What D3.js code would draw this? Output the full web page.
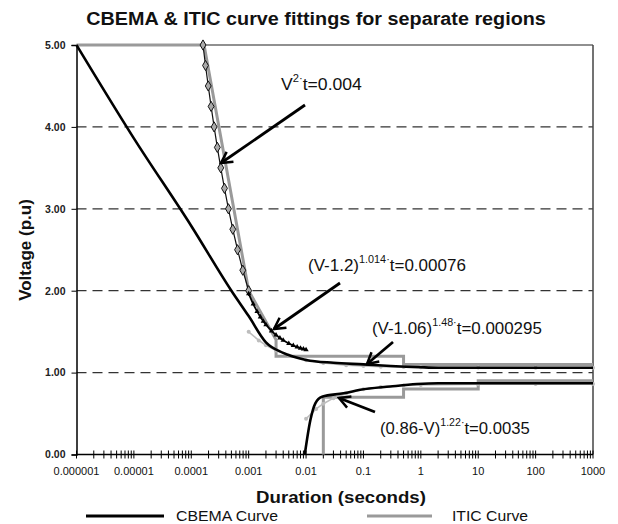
<!DOCTYPE html>
<html><head><meta charset="utf-8">
<script src="https://cdn.jsdelivr.net/npm/d3@7"></script>
<style>body{margin:0;background:#fff}svg{display:block;font-family:Arial,"Liberation Sans",sans-serif}</style>
</head><body><svg id="c" width="618" height="524"></svg>
<script>
// ---- data ----
const xTickLabels = ["0.000001","0.00001","0.0001","0.001","0.01","0.1","1","10","100","1000"];
const xTickValues = [1e-6,1e-5,1e-4,1e-3,1e-2,1e-1,1,10,100,1000];
const yTickValues = [0,1,2,3,4,5];

const cbemaUpperT = [1e-6,1e-5,1e-4,0.0005,0.001,0.002,0.004,0.01,0.03,0.1,0.3,1,2,1000];
const cbemaUpperV = [5.0,3.86,2.79,2.0,1.69,1.37,1.24,1.155,1.12,1.10,1.08,1.065,1.06,1.06];
const cbemaLowerT = [0.0095,0.0119,0.0145,0.019,0.045,0.088,0.293,0.85,2,1000];
const cbemaLowerV = [0.0,0.42,0.625,0.706,0.747,0.79,0.83,0.86,0.87,0.87];

const iticUpperT = [1e-6,0.000167,0.001,0.003,0.003,0.5,0.5,1000];
const iticUpperV = [5.0,5.0,2.0,1.4,1.2,1.2,1.1,1.1];
const iticLowerT = [0.02,0.02,0.5,0.5,10,10,1000];
const iticLowerV = [0.0,0.7,0.7,0.8,0.8,0.9,0.9];

// V^2·t = 0.004 (diamonds)
const fit1T = [0.00016,0.000177,0.0001975,0.0002215,0.00025,0.0002844,0.0003265,0.0003787,0.0004444,0.000529,0.00064,0.00079,0.001];
const fit1V = [5.0,4.75,4.5,4.25,4.0,3.75,3.5,3.25,3.0,2.75,2.5,2.25,2.0];
// (V-1.2)^1.014·t = 0.00076 (triangles)
const fit2T = [0.001,0.0012,0.0014,0.0016,0.0018,0.002,0.0025,0.003,0.0035,0.004,0.005,0.006,0.007,0.008,0.009,0.01];
const fit2V = [1.963,1.837,1.747,1.680,1.627,1.585,1.509,1.458,1.422,1.394,1.356,1.330,1.312,1.298,1.287,1.279];
// (V-1.06)^1.48·t = 0.000295
const fit3T = [0.001,0.0015,0.002,0.003,0.005,0.01,0.02,0.05,0.1,0.2,0.5,1,10,100,1000];
const fit3V = [1.498,1.393,1.334,1.269,1.208,1.152,1.118,1.091,1.080,1.072,1.067,1.064,1.061,1.060,1.060];
// (0.86-V)^1.22·t = 0.0035
const fit4T = [0.01,0.015,0.02,0.03,0.05,0.1,0.2,0.5,1,10,100,1000];
const fit4V = [0.437,0.557,0.620,0.688,0.747,0.796,0.824,0.843,0.850,0.8585,0.8597,0.860];

// ---- chart ----
const svg = d3.select("#c");
const L = 76.5, R = 593, T = 45, B = 454.5;
const x = d3.scaleLog().domain([1e-6,1000]).range([L,R]);
const y = d3.scaleLinear().domain([0,5]).range([B,T]);
const zip = (a,b)=>a.map((t,i)=>[t,b[i]]);
const line = d3.line().x(d=>x(d[0])).y(d=>y(d[1]));

svg.append("defs").append("marker").attr("id","arr").attr("viewBox","-14 -8 16 16")
  .attr("markerWidth",16).attr("markerHeight",16).attr("refX",0).attr("refY",0)
  .attr("orient","auto").attr("markerUnits","userSpaceOnUse")
  .append("path").attr("d","M-11,-6 L0,0 L-11,6").attr("fill","none").attr("stroke","#000").attr("stroke-width",2.5);

// gridlines
svg.append("g").selectAll("line").data([1,2,3,4]).join("line")
  .attr("x1",L).attr("x2",R).attr("y1",d=>y(d)).attr("y2",d=>y(d))
  .attr("stroke","#333").attr("stroke-width",1.2).attr("stroke-dasharray","10,6");

// frame top/right
svg.append("line").attr("x1",L).attr("x2",R).attr("y1",T).attr("y2",T).attr("stroke","#222").attr("stroke-width",1.2);
svg.append("line").attr("x1",R).attr("x2",R).attr("y1",T).attr("y2",B).attr("stroke","#444").attr("stroke-width",1.5);

// y axis
const yAxis = svg.append("g").attr("transform",`translate(${L},0)`)
  .call(d3.axisLeft(y).tickValues(yTickValues).tickFormat(d3.format(".2f")).tickSize(5).tickPadding(6));
yAxis.select(".domain").attr("stroke","#000").attr("stroke-width",1.5);
yAxis.selectAll("text").attr("font-size",10.5).attr("font-weight","bold").attr("fill","#222").attr("font-family","Arial,'Liberation Sans',sans-serif");

// x axis
const minor = [];
for (let e=-6;e<3;e++) for (let k=2;k<10;k++) minor.push(k*Math.pow(10,e));
const xg = svg.append("g").attr("transform",`translate(0,${B})`);
xg.append("line").attr("x1",L).attr("x2",R).attr("stroke","#000").attr("stroke-width",1.5);
xg.selectAll("line.t").data(xTickValues.concat(minor)).join("line").attr("class","t")
  .attr("x1",d=>x(d)).attr("x2",d=>x(d)).attr("y1",-4).attr("y2",4).attr("stroke","#000").attr("stroke-width",1);
xg.selectAll("text").data(xTickValues).join("text")
  .attr("x",d=>x(d)).attr("y",20).attr("text-anchor","middle").attr("font-size",11).attr("fill","#111")
  .text((d,i)=>xTickLabels[i]);

// ITIC (gray)
[zip(iticUpperT,iticUpperV), zip(iticLowerT,iticLowerV)].forEach(d=>
  svg.append("path").datum(d).attr("d",line).attr("fill","none").attr("stroke","#9a9a9a").attr("stroke-width",3));

// fitted light-gray curves
[zip(fit3T,fit3V), zip(fit4T,fit4V)].forEach(d=>{
  svg.append("path").datum(d).attr("d",line).attr("fill","none").attr("stroke","#bdbdbd").attr("stroke-width",1.6);
  svg.append("g").selectAll("circle").data(d).join("circle").attr("cx",p=>x(p[0])).attr("cy",p=>y(p[1])).attr("r",2).attr("fill","#bdbdbd");
});

// CBEMA (black)
[zip(cbemaUpperT,cbemaUpperV), zip(cbemaLowerT,cbemaLowerV)].forEach(d=>
  svg.append("path").datum(d).attr("d",d3.line().curve(d3.curveMonotoneX).x(p=>x(p[0])).y(p=>y(p[1]))).attr("fill","none").attr("stroke","#000").attr("stroke-width",2.6));

// V^2 t fit with diamonds
const f1 = zip(fit1T,fit1V);
svg.append("path").datum(f1).attr("d",line).attr("fill","none").attr("stroke","#111").attr("stroke-width",1.2);
svg.append("g").selectAll("path").data(f1).join("path")
  .attr("transform",p=>`translate(${x(p[0])},${y(p[1])})`)
  .attr("d",d3.symbol(d3.symbolDiamond,30)).attr("fill","#aaa").attr("stroke","#111").attr("stroke-width",1);

// (V-1.2) fit with triangles
const f2 = zip(fit2T,fit2V);
svg.append("path").datum(f2).attr("d",line).attr("fill","none").attr("stroke","#000").attr("stroke-width",1.8);
svg.append("g").selectAll("path").data(f2).join("path")
  .attr("transform",p=>`translate(${x(p[0])},${y(p[1])})`)
  .attr("d",d3.symbol(d3.symbolTriangle,12)).attr("fill","#000");

// annotations
const ann = [
  {base:"V", sup:"2·", rest:"t=0.004", tx:281, ty:90, w:81, x1:305, y1:105, x2:221, y2:163},
  {base:"(V-1.2)", sup:"1.014·", rest:"t=0.00076", tx:308, ty:271, w:158, x1:340, y1:283, x2:274, y2:329},
  {base:"(V-1.06)", sup:"1.48·", rest:"t=0.000295", tx:372, ty:334, w:170, x1:393, y1:342, x2:367, y2:364},
  {base:"(0.86-V)", sup:"1.22·", rest:"t=0.0035", tx:380, ty:434, w:150, x1:375, y1:412, x2:339, y2:398}
];
ann.forEach(a=>{
  svg.append("line").attr("x1",a.x1).attr("y1",a.y1).attr("x2",a.x2).attr("y2",a.y2)
    .attr("stroke","#000").attr("stroke-width",2.8).attr("marker-end","url(#arr)");
  const t = svg.append("text").attr("x",a.tx).attr("y",a.ty).attr("font-size",16.5).attr("fill","#111");
  t.append("tspan").text(a.base);
  t.append("tspan").attr("dy",-8).attr("font-size",10.5).text(a.sup);
  t.append("tspan").attr("dy",8).text(a.rest);
  const bb = t.node().getBBox();
  t.attr("transform",`translate(${a.tx},0) scale(${a.w/bb.width},1) translate(${-a.tx},0)`);
});

function fitText(sel, w){
  const bb = sel.node().getBBox();
  const cx = bb.x + bb.width/2;
  const s = w/bb.width;
  sel.attr("transform",`translate(${cx},0) scale(${s},1) translate(${-cx},0)`);
}
// titles
fitText(svg.append("text").attr("x",316).attr("y",25).attr("text-anchor","middle").attr("font-size",18.5).attr("font-weight","bold").attr("fill","#111")
  .text("CBEMA & ITIC curve fittings for separate regions"), 460);
fitText(svg.append("text").attr("x",341).attr("y",503).attr("text-anchor","middle").attr("font-size",17).attr("font-weight","bold").attr("fill","#111")
  .text("Duration (seconds)"), 170);
svg.append("text").attr("transform","translate(31,250) rotate(-90)").attr("text-anchor","middle").attr("font-size",17).attr("font-weight","bold").attr("fill","#111")
  .text("Voltage (p.u)");

// legend
svg.append("line").attr("x1",86).attr("x2",164).attr("y1",516).attr("y2",516).attr("stroke","#000").attr("stroke-width",3);
svg.append("text").attr("x",176).attr("y",521).attr("font-size",14).attr("fill","#111")
  .attr("textLength",102).attr("lengthAdjust","spacingAndGlyphs").text("CBEMA Curve");
svg.append("line").attr("x1",367).attr("x2",432).attr("y1",516).attr("y2",516).attr("stroke","#9a9a9a").attr("stroke-width",3);
svg.append("text").attr("x",452).attr("y",521).attr("font-size",14).attr("fill","#111")
  .attr("textLength",76).attr("lengthAdjust","spacingAndGlyphs").text("ITIC Curve");
</script></body></html>
